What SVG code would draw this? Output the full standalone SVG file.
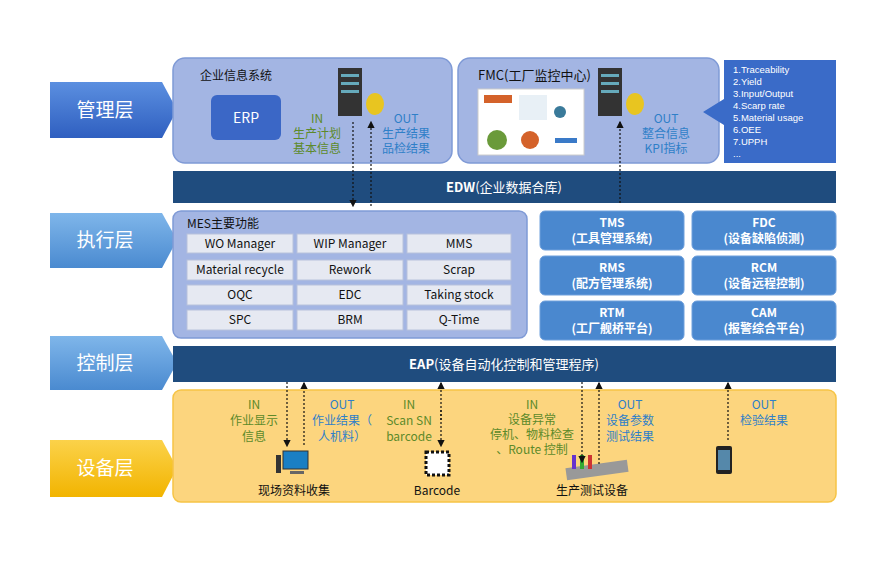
<svg xmlns="http://www.w3.org/2000/svg" width="890" height="579" viewBox="0 0 890 579">
<defs>
<marker id="ah" markerWidth="6" markerHeight="6" refX="5" refY="3" orient="auto"><path d="M0,0L6,3L0,6z" fill="#111"/></marker>
<linearGradient id="gb" x1="0" y1="0" x2="0" y2="1"><stop offset="0" stop-color="#5b8fe0"/><stop offset="1" stop-color="#2f5fc0"/></linearGradient>
<linearGradient id="gl" x1="0" y1="0" x2="0" y2="1"><stop offset="0" stop-color="#7fb6ea"/><stop offset="1" stop-color="#4a8ad0"/></linearGradient>
<linearGradient id="gy" x1="0" y1="0" x2="0" y2="1"><stop offset="0" stop-color="#fbd24a"/><stop offset="1" stop-color="#f2b400"/></linearGradient>
</defs>
<style>
text{font-family:"Noto Sans CJK SC","Noto Sans",sans-serif}
.lay{fill:#fff;font-size:19px}
.panel{fill:#a3b5e3;stroke:#7f9ad6;stroke-width:1.5}
.cell{fill:#e6e9f2;stroke:#b8c2dc}
.ct{font-size:12px;fill:#111;text-anchor:middle}
.tile{fill:#4a88cf;stroke:#6fa0dc}
.tt{font-size:12px;fill:#fff;text-anchor:middle;font-weight:bold}
.bar{fill:#1f4c7e}
.g{fill:#5d8a2a;font-size:12px;text-anchor:middle}
.b{fill:#2f7fc8;font-size:12px;text-anchor:middle}
.k{fill:#111;font-size:12px;text-anchor:middle}
.dl{stroke:#111;stroke-width:1.2;stroke-dasharray:2,2;fill:none}
.li{font-family:"Liberation Sans",sans-serif;font-size:9.5px;fill:#fff}
</style>
<rect width="890" height="579" fill="#fff"/>
<g id="layers">
<path d="M50,82H162L177,110L162,138H50z" fill="url(#gb)"/><text x="105" y="117" class="lay" text-anchor="middle">管理层</text>
<path d="M50,213H162L177,240L162,268H50z" fill="url(#gl)"/><text x="105" y="247" class="lay" text-anchor="middle">执行层</text>
<path d="M50,336H162L177,363L162,390H50z" fill="url(#gl)"/><text x="105" y="370" class="lay" text-anchor="middle">控制层</text>
<path d="M50,440H162L177,468L162,497H50z" fill="url(#gy)"/><text x="105" y="475" class="lay" text-anchor="middle">设备层</text>
</g>
<g id="erp-panel">
<rect x="173" y="58" width="279" height="105" rx="12" class="panel"/>
<text x="200" y="80" font-size="12" fill="#111">企业信息系统</text>
<rect x="211" y="95" width="70" height="45" rx="6" fill="#3b67c6"/>
<text x="246" y="123" font-size="14" fill="#fff" text-anchor="middle">ERP</text>
<rect x="338" y="68" width="24" height="48" fill="#333"/><rect x="341" y="74" width="18" height="3" fill="#6ab"/><rect x="341" y="82" width="18" height="3" fill="#6ab"/><rect x="341" y="90" width="18" height="3" fill="#6ab"/>
<ellipse cx="375" cy="104" rx="9" ry="11" fill="#e8c520"/>
<text x="317" y="123" class="g">IN</text><text x="317" y="138" class="g">生产计划</text><text x="317" y="153" class="g">基本信息</text>
<text x="406" y="123" class="b">OUT</text><text x="406" y="138" class="b">生产结果</text><text x="406" y="153" class="b">品检结果</text>
</g>
<g id="fmc-panel">
<rect x="458" y="58" width="261" height="105" rx="12" class="panel"/>
<text x="478" y="80" font-size="13" fill="#111">FMC(工厂监控中心)</text>
<rect x="478" y="89" width="106" height="66" fill="#fff" stroke="#ccc"/>
<rect x="484" y="95" width="28" height="8" fill="#d4622a"/><rect x="519" y="95" width="28" height="25" fill="#e8f0f6"/>
<circle cx="497" cy="140" r="10" fill="#6a9a3a"/><circle cx="530" cy="140" r="9" fill="#d4622a"/><circle cx="560" cy="112" r="6" fill="#3a7a9a"/><rect x="555" y="138" width="22" height="5" fill="#3a7ac8"/>
<rect x="598" y="68" width="24" height="48" fill="#333"/><rect x="601" y="74" width="18" height="3" fill="#6ab"/><rect x="601" y="82" width="18" height="3" fill="#6ab"/><rect x="601" y="90" width="18" height="3" fill="#6ab"/>
<ellipse cx="635" cy="104" rx="9" ry="11" fill="#e8c520"/>
<text x="666" y="123" class="b">OUT</text><text x="666" y="138" class="b">整合信息</text><text x="666" y="153" class="b">KPI指标</text>
</g>
<g id="kpi-list">
<path d="M724,60H836V163H724V125L703,112L724,99z" fill="#3a6bc8"/>
<text x="733" y="73" class="li">1.Traceability</text><text x="733" y="85" class="li">2.Yield</text><text x="733" y="97" class="li">3.Input/Output</text><text x="733" y="109" class="li">4.Scarp rate</text><text x="733" y="121" class="li">5.Material usage</text><text x="733" y="133" class="li">6.OEE</text><text x="733" y="145" class="li">7.UPPH</text><text x="733" y="157" class="li">...</text>
</g>
<g id="edw"><rect x="173" y="171" width="663" height="32" class="bar"/><text x="504" y="192" font-size="13" fill="#fff" text-anchor="middle"><tspan font-weight="bold">EDW</tspan>(企业数据合库)</text></g>
<g id="mes">
<rect x="173" y="211" width="354" height="127" rx="8" class="panel"/>
<text x="187" y="228" font-size="12" fill="#111">MES主要功能</text>
<rect x="187" y="234" width="106" height="19" class="cell"/><text x="240" y="248" class="ct">WO Manager</text>
<rect x="297" y="234" width="106" height="19" class="cell"/><text x="350" y="248" class="ct">WIP Manager</text>
<rect x="407" y="234" width="104" height="19" class="cell"/><text x="459" y="248" class="ct">MMS</text>
<rect x="187" y="260" width="106" height="20" class="cell"/><text x="240" y="274" class="ct">Material recycle</text>
<rect x="297" y="260" width="106" height="20" class="cell"/><text x="350" y="274" class="ct">Rework</text>
<rect x="407" y="260" width="104" height="20" class="cell"/><text x="459" y="274" class="ct">Scrap</text>
<rect x="187" y="285" width="106" height="20" class="cell"/><text x="240" y="299" class="ct">OQC</text>
<rect x="297" y="285" width="106" height="20" class="cell"/><text x="350" y="299" class="ct">EDC</text>
<rect x="407" y="285" width="104" height="20" class="cell"/><text x="459" y="299" class="ct">Taking stock</text>
<rect x="187" y="310" width="106" height="20" class="cell"/><text x="240" y="324" class="ct">SPC</text>
<rect x="297" y="310" width="106" height="20" class="cell"/><text x="350" y="324" class="ct">BRM</text>
<rect x="407" y="310" width="104" height="20" class="cell"/><text x="459" y="324" class="ct">Q-Time</text>
</g>
<g id="tiles">
<rect x="540" y="211" width="144" height="39" rx="5" class="tile"/><text x="612" y="227" class="tt">TMS</text><text x="612" y="243" class="tt">(工具管理系统)</text>
<rect x="692" y="211" width="144" height="39" rx="5" class="tile"/><text x="764" y="227" class="tt">FDC</text><text x="764" y="243" class="tt">(设备缺陷侦测)</text>
<rect x="540" y="256" width="144" height="39" rx="5" class="tile"/><text x="612" y="272" class="tt">RMS</text><text x="612" y="288" class="tt">(配方管理系统)</text>
<rect x="692" y="256" width="144" height="39" rx="5" class="tile"/><text x="764" y="272" class="tt">RCM</text><text x="764" y="288" class="tt">(设备远程控制)</text>
<rect x="540" y="301" width="144" height="39" rx="5" class="tile"/><text x="612" y="317" class="tt">RTM</text><text x="612" y="333" class="tt">(工厂舰桥平台)</text>
<rect x="692" y="301" width="144" height="39" rx="5" class="tile"/><text x="764" y="317" class="tt">CAM</text><text x="764" y="333" class="tt">(报警综合平台)</text>
</g>
<g id="eap"><rect x="173" y="346" width="663" height="36" class="bar"/><text x="504" y="369" font-size="13" fill="#fff" text-anchor="middle"><tspan font-weight="bold">EAP</tspan>(设备自动化控制和管理程序)</text></g>
<g id="devices">
<rect x="173" y="390" width="663" height="112" rx="8" fill="#fcd57e" stroke="#f6c445" stroke-width="1.5"/>
<text x="254" y="409" class="g">IN</text><text x="254" y="425" class="g">作业显示</text><text x="254" y="441" class="g">信息</text>
<text x="342" y="409" class="b">OUT</text><text x="342" y="425" class="b">作业结果（</text><text x="342" y="441" class="b">人机料）</text>
<text x="409" y="409" class="g">IN</text><text x="409" y="425" class="g">Scan SN</text><text x="409" y="441" class="g">barcode</text>
<text x="532" y="409" class="g">IN</text><text x="532" y="424" class="g">设备异常</text><text x="532" y="439" class="g">停机、物料检查</text><text x="532" y="454" class="g">、Route 控制</text>
<text x="630" y="409" class="b">OUT</text><text x="630" y="425" class="b">设备参数</text><text x="630" y="441" class="b">测试结果</text>
<text x="764" y="409" class="b">OUT</text><text x="764" y="425" class="b">检验结果</text>
<rect x="283" y="451" width="25" height="18" fill="#1a7fc4" stroke="#333"/><rect x="276" y="455" width="5" height="18" fill="#333"/><rect x="290" y="471" width="14" height="3" fill="#666"/>
<rect x="426" y="452" width="23" height="23" fill="#fff" stroke="#111" stroke-width="3" stroke-dasharray="3,2"/>
<rect x="566" y="464" width="62" height="12" fill="#999" transform="rotate(-8 597 470)"/><rect x="572" y="455" width="4" height="14" fill="#63c"/><rect x="580" y="455" width="4" height="14" fill="#3a3"/><rect x="588" y="455" width="4" height="14" fill="#c33"/>
<rect x="716" y="446" width="16" height="28" rx="2" fill="#222"/><rect x="718" y="450" width="12" height="20" fill="#58a"/>
<text x="294" y="495" class="k">现场资料收集</text><text x="437" y="495" class="k">Barcode</text><text x="592" y="495" class="k">生产测试设备</text>
</g>
<g id="connectors">
<line x1="353" y1="122" x2="353" y2="206" class="dl" marker-end="url(#ah)"/>
<line x1="371" y1="206" x2="371" y2="122" class="dl" marker-end="url(#ah)"/>
<line x1="620" y1="203" x2="620" y2="122" class="dl" marker-end="url(#ah)"/>
<line x1="287" y1="382" x2="287" y2="446" class="dl" marker-end="url(#ah)"/>
<line x1="304" y1="445" x2="304" y2="383" class="dl" marker-end="url(#ah)"/>
<line x1="441" y1="420" x2="441" y2="383" class="dl" marker-end="url(#ah)"/>
<line x1="441" y1="410" x2="441" y2="446" class="dl" marker-end="url(#ah)"/>
<line x1="582" y1="382" x2="582" y2="462" class="dl" marker-end="url(#ah)"/>
<line x1="599" y1="464" x2="599" y2="383" class="dl" marker-end="url(#ah)"/>
<line x1="728" y1="440" x2="728" y2="383" class="dl" marker-end="url(#ah)"/>
</g>
</svg>
